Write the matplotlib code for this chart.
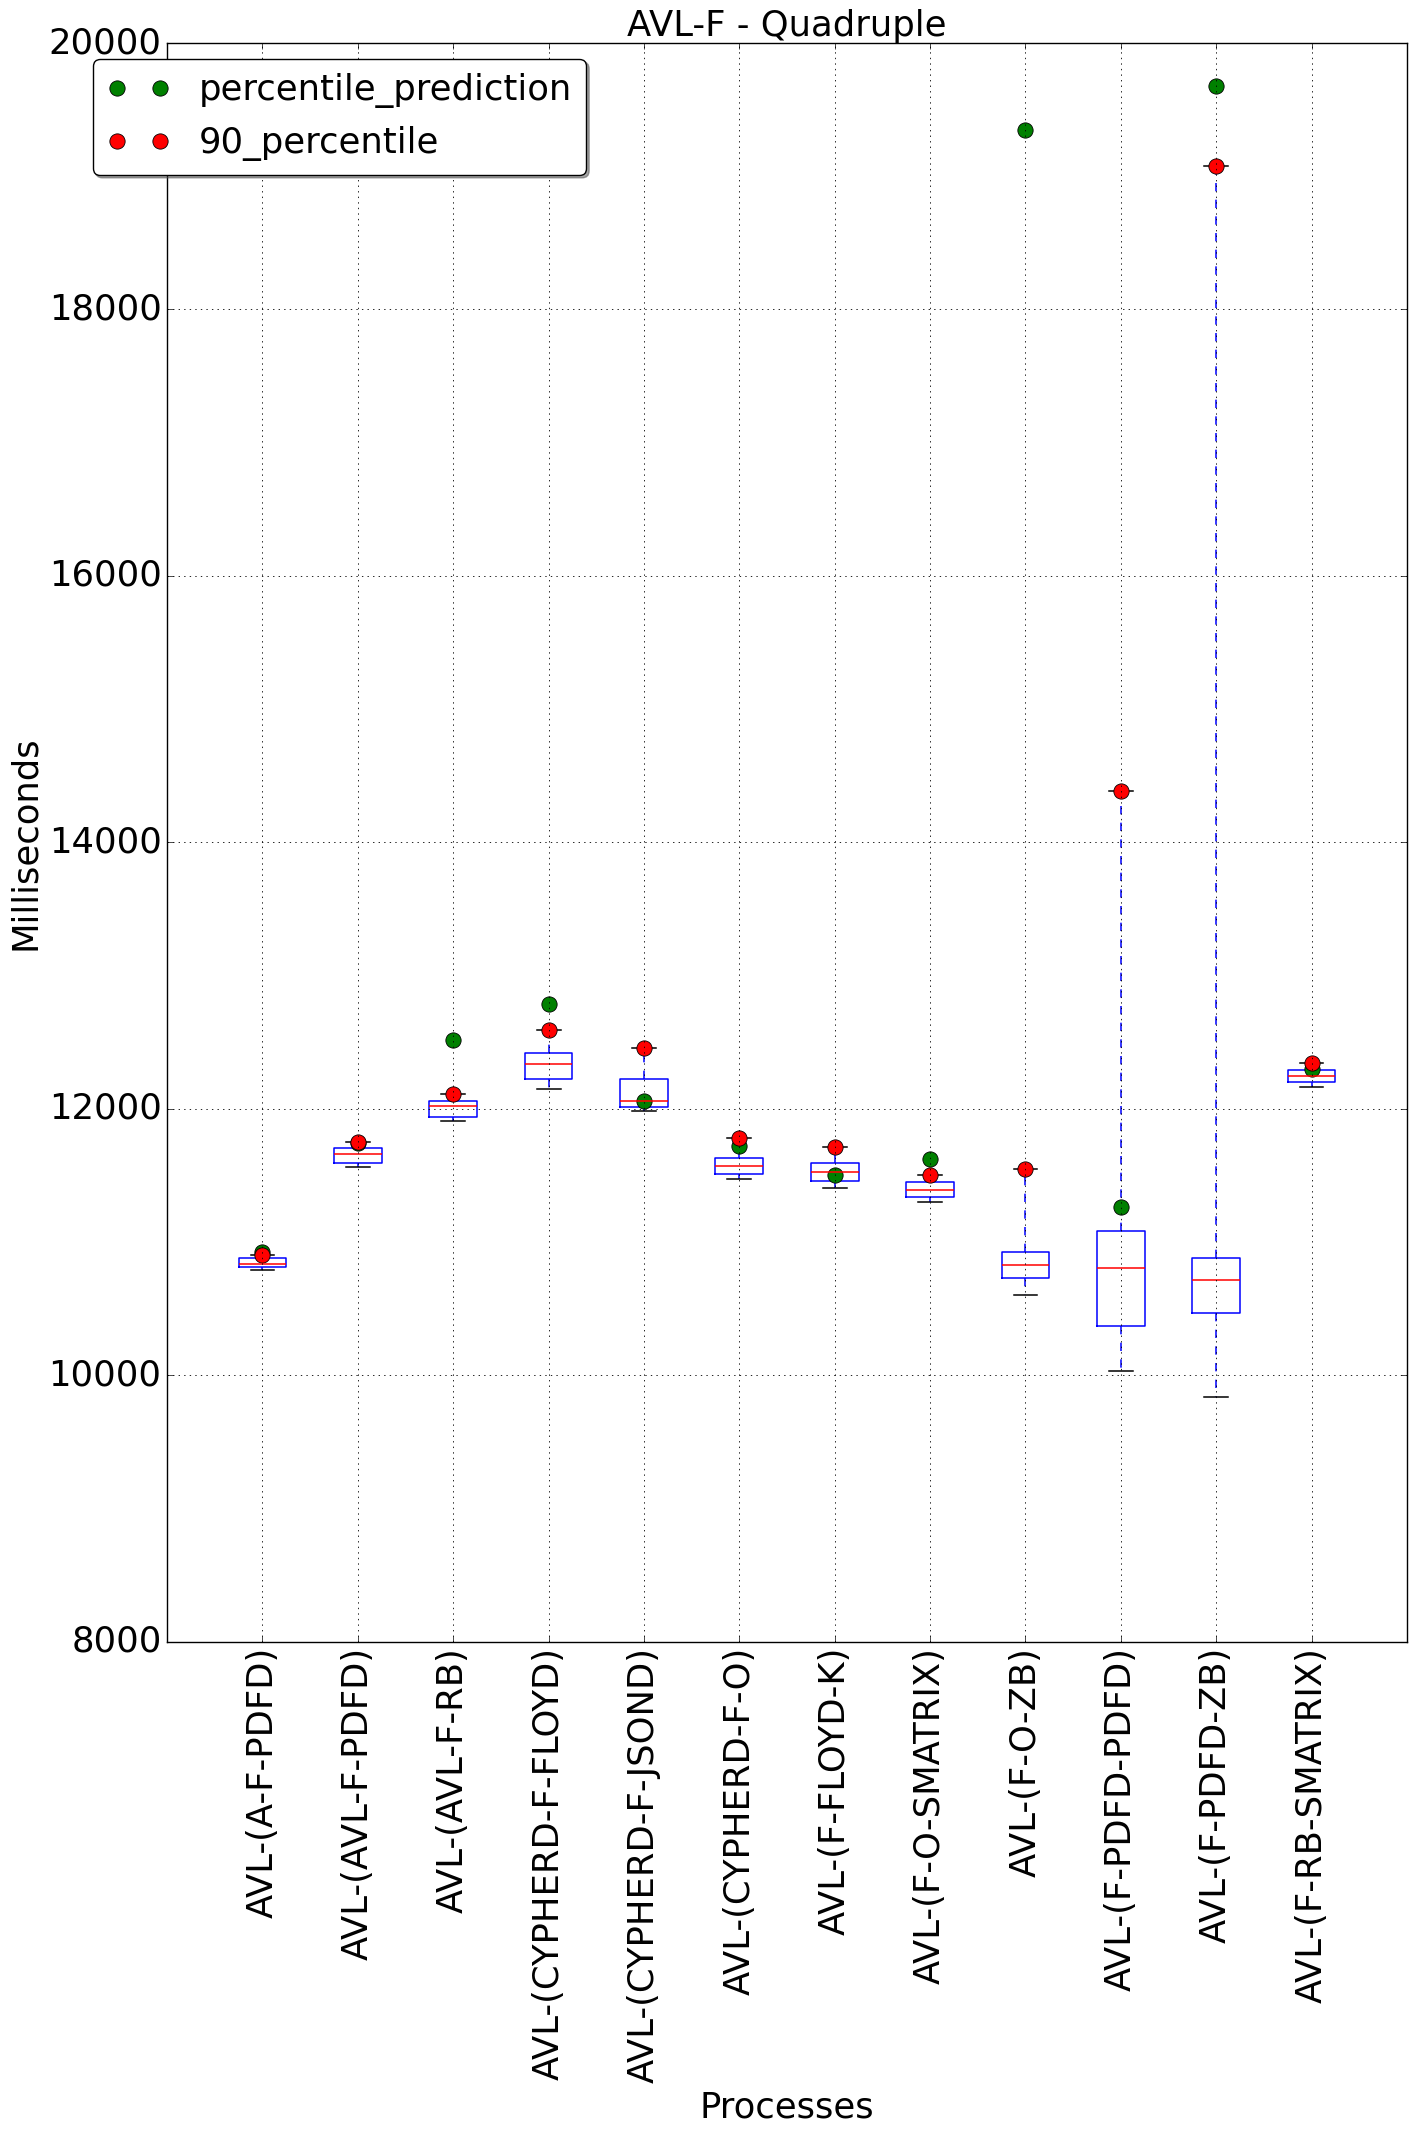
import matplotlib
matplotlib.use("Agg")
import matplotlib.pyplot as plt

plt.style.use("classic")

labels = ['AVL-(A-F-PDFD)', 'AVL-(AVL-F-PDFD)', 'AVL-(AVL-F-RB)', 'AVL-(CYPHERD-F-FLOYD)',
          'AVL-(CYPHERD-F-JSOND)', 'AVL-(CYPHERD-F-O)', 'AVL-(F-FLOYD-K)', 'AVL-(F-O-SMATRIX)',
          'AVL-(F-O-ZB)', 'AVL-(F-PDFD-PDFD)', 'AVL-(F-PDFD-ZB)', 'AVL-(F-RB-SMATRIX)']
whislo = [10786, 11565, 11910, 12145, 11985, 11470, 11408, 11303, 10598, 10029, 9834, 12165]
q1 = [10813, 11595, 11940, 12225, 12015, 11510, 11460, 11337, 10726, 10371, 10463, 12202]
med = [10835, 11663, 12017, 12334, 12060, 11573, 11523, 11393, 10823, 10801, 10711, 12247]
q3 = [10880, 11708, 12060, 12420, 12220, 11633, 11590, 11448, 10921, 11085, 10876, 12287]
p90 = [10900, 11747, 12112, 12592, 12457, 11777, 11715, 11505, 11545, 14388, 19080, 12345]
pred = [10925, 11745, 12512, 12789, 12060, 11720, 11500, 11625, 19348, 11265, 19680, 12297]

FS = 25.5
LW = 1.1

fig = plt.figure(figsize=(14.16, 21.31), dpi=100, facecolor="white")
ax = fig.add_axes([0.118, 0.2297, 0.8756, 0.7501])
ax.set_facecolor("white")

positions = list(range(1, len(labels) + 1))
stats = []
for i in range(len(labels)):
    stats.append(dict(med=med[i], q1=q1[i], q3=q3[i], whislo=whislo[i], whishi=p90[i], fliers=[]))
ax.bxp(stats, positions=positions, widths=0.5, showfliers=False,
       boxprops=dict(color='b', linewidth=LW),
       whiskerprops=dict(color='b', linestyle='--', linewidth=LW),
       capprops=dict(color='k', linewidth=LW),
       medianprops=dict(color='r', linewidth=LW))

ax.plot(positions, pred, 'o', color='green', markeredgecolor='black', markersize=11,
        markeredgewidth=0.6, label='percentile_prediction')
ax.plot(positions, p90, 'o', color='red', markeredgecolor='black', markersize=11,
        markeredgewidth=0.6, label='90_percentile')

ax.set_xlim(0, 13)
ax.set_ylim(8000, 20000)
ax.set_xticks(positions)
ax.set_xticklabels(labels, rotation=90, fontsize=FS)
ax.tick_params(axis='y', labelsize=FS)
ax.grid(True, color='black', linestyle=':', linewidth=0.6)
ax.set_title('AVL-F - Quadruple', fontsize=FS)
ax.set_xlabel('Processes', fontsize=FS)
ax.set_ylabel('Milliseconds', fontsize=FS)

leg = ax.legend(loc='upper left', bbox_to_anchor=(-0.06, 0.99), borderaxespad=0,
                numpoints=2, fancybox=True, shadow=True, fontsize=FS, handlelength=1.8)

fig.savefig("out.png", dpi=100, facecolor="white")
